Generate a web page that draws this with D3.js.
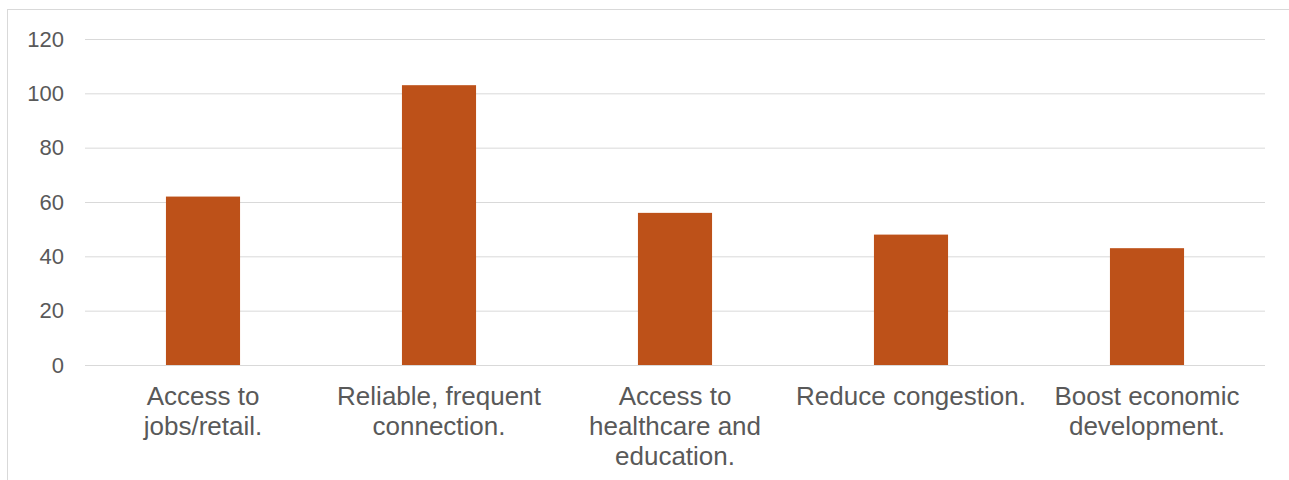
<!DOCTYPE html>
<html>
<head>
<meta charset="utf-8">
<script src="https://cdn.jsdelivr.net/npm/d3@7"></script>
<style>
  html, body { margin: 0; padding: 0; background: #fff; }
  svg { display: block; }
</style>
</head>
<body>
<svg id="chart" width="1289" height="480"></svg>
<script>
const categories = ["Access to jobs/retail.", "Reliable, frequent connection.", "Access to healthcare and education.", "Reduce congestion.", "Boost economic development."];
const values = [62, 103, 56, 48, 43];
const yTicks = [0, 20, 40, 60, 80, 100, 120];

const svg = d3.select("#chart");
const plot = { left: 85, right: 1265, top: 39, bottom: 365 };
const textColor = "#595959";
const font = "'Liberation Sans', Arial, sans-serif";

// chart border
svg.append("rect")
  .attr("x", 7.5).attr("y", 9.5)
  .attr("width", 1400).attr("height", 600)
  .attr("fill", "none").attr("stroke", "#d9d9d9").attr("stroke-width", 1);

const x = d3.scaleBand().domain(categories)
  .range([plot.left, plot.right])
  .paddingInner(0.686).paddingOuter(0.343);
const y = d3.scaleLinear().domain([0, 120]).range([plot.bottom, plot.top]);

// gridlines
const grid = d3.axisLeft(y).tickValues(yTicks).tickSize(-(plot.right - plot.left)).tickFormat("");
const gG = svg.append("g").attr("transform", `translate(${plot.left},0)`).call(grid);
gG.select(".domain").remove();
gG.selectAll(".tick line").attr("stroke", "#d9d9d9").attr("stroke-width", 1);

// y tick labels
const yAxis = d3.axisLeft(y).tickValues(yTicks).tickSize(0).tickPadding(21);
const yG = svg.append("g").attr("transform", `translate(${plot.left},0)`).call(yAxis);
yG.select(".domain").remove();
yG.selectAll("text").attr("fill", textColor).attr("font-family", font).attr("font-size", "22px");

// bars
svg.append("g").selectAll("rect").data(values).join("rect")
  .attr("x", (d, i) => x(categories[i]))
  .attr("width", x.bandwidth())
  .attr("y", d => y(d))
  .attr("height", d => y(0) - y(d))
  .attr("fill", "#BD5119");

// x labels
const xAxis = d3.axisBottom(x).tickSize(0).tickPadding(0);
const xG = svg.append("g").attr("transform", `translate(0,${plot.bottom})`).call(xAxis);
xG.select(".domain").remove();
xG.selectAll("text")
  .attr("fill", textColor).attr("font-family", font).attr("font-size", "26px")
  .attr("y", 0).attr("dy", 0)
  .each(function(d) {
    const t = d3.select(this);
    const words = d.split(" ");
    t.text(null);
    const maxW = 234;
    let lines = [], cur = [];
    const probe = t.append("tspan");
    for (const w of words) {
      const test = cur.concat([w]).join(" ");
      probe.text(test);
      if (probe.node().getComputedTextLength() > maxW && cur.length) {
        lines.push(cur.join(" "));
        cur = [w];
      } else cur.push(w);
    }
    if (cur.length) lines.push(cur.join(" "));
    probe.remove();
    lines.forEach((ln, k) => {
      t.append("tspan").attr("x", 0).attr("y", 40 + k * 30).text(ln);
    });
  });
</script>
</body>
</html>
